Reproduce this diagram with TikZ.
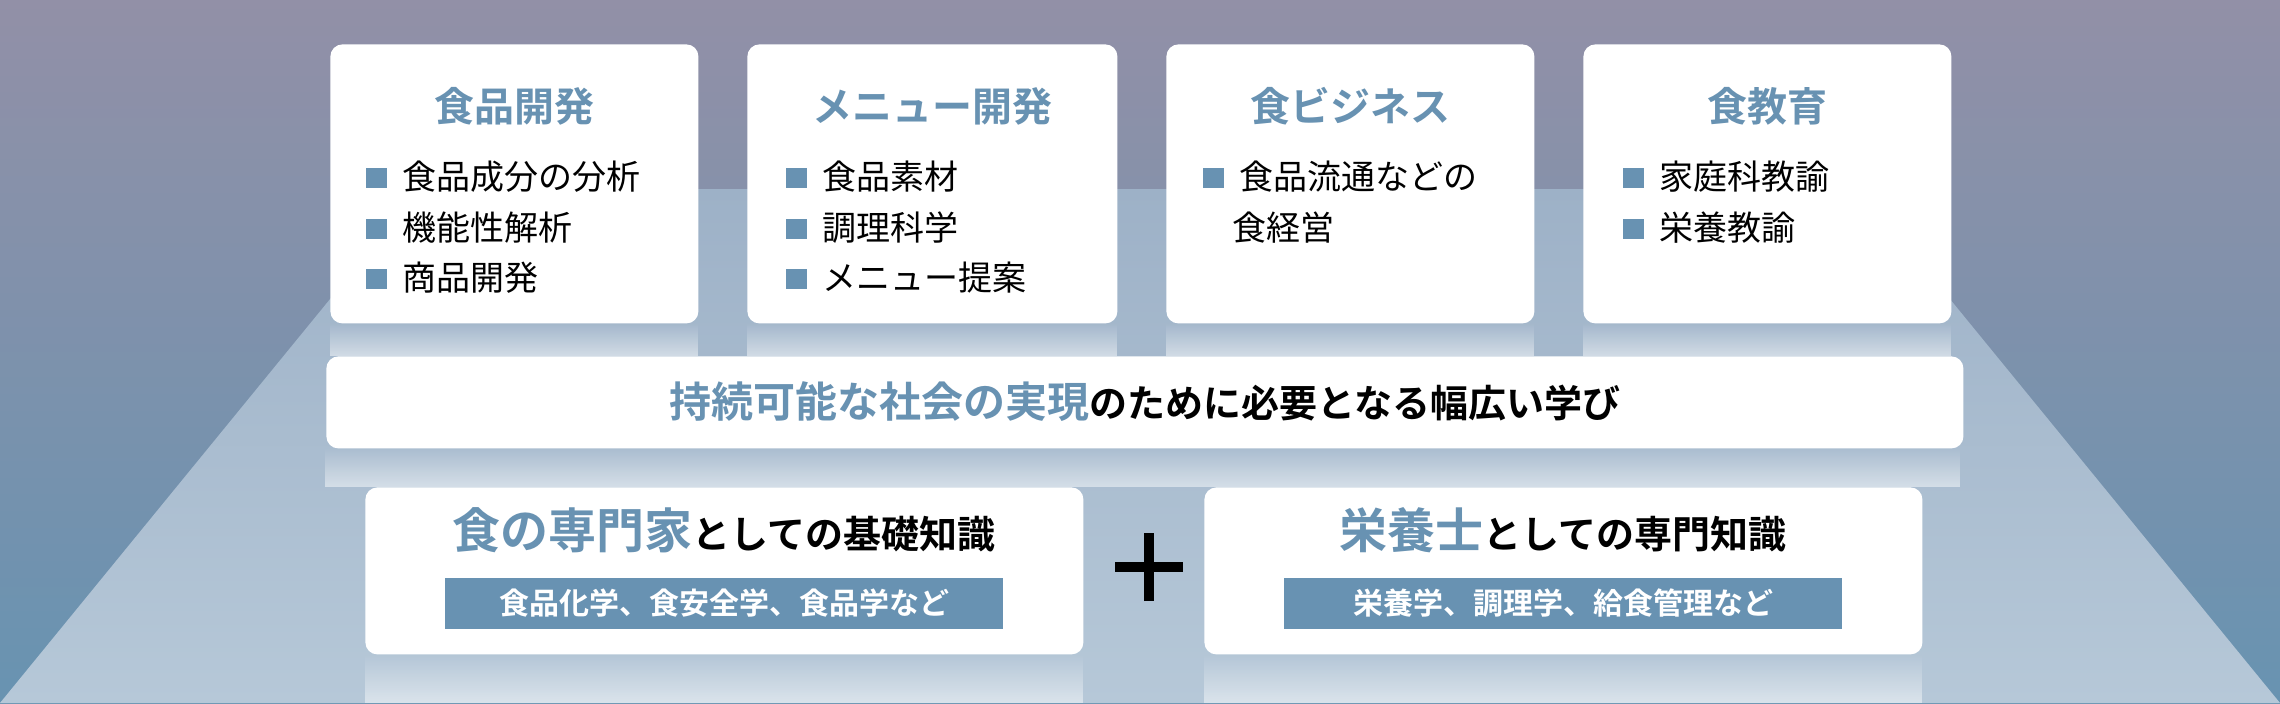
\documentclass[tikz,border=0pt]{standalone}
\usepackage{fontspec}
\setmainfont{Noto Sans CJK JP}[BoldFont={Noto Sans CJK JP Bold}]
\usetikzlibrary{fadings,positioning}

\definecolor{accent}{HTML}{6892B2}
\definecolor{skytop}{HTML}{9290A7}
\definecolor{skybot}{HTML}{6893B1}
\definecolor{floortop}{HTML}{9DB1C7}
\definecolor{floorbot}{HTML}{B6C8D8}

\newcommand{\sqmark}{{\color{accent}\rule[0.05em]{0.6em}{0.6em}}\hspace{0.45em}}

\tikzset{
  card/.style={rectangle, rounded corners=6pt, fill=white, inner sep=0pt, anchor=north west},
  cardtitle/.style={font=\fontsize{20}{24}\selectfont\bfseries, text=accent},
  itemtext/.style={font=\fontsize{17}{20}\selectfont, anchor=west, inner sep=0pt},
  bigtitle/.style={font=\fontsize{19}{24}\selectfont\bfseries},
  barbox/.style={fill=accent, text=white, minimum width=279pt, minimum height=25.5pt,
    font=\fontsize{15}{18}\selectfont\bfseries},
  glow/.style={fill=white, opacity=0.5, path fading=north}
}

\begin{document}
\begin{tikzpicture}[x=0.5pt,y=-0.5pt]
\useasboundingbox (0,0) rectangle (2280,703);

% backdrop
\shade[top color=skytop, bottom color=skybot] (0,0) rectangle (2280,703);
\shade[top color=floortop, bottom color=floorbot] (420,189) -- (1860,189) -- (2280,703) -- (0,703) -- cycle;

% reflections
\fill[glow] (330,323) rectangle (698,356);
\fill[glow] (747,323) rectangle (1117,356);
\fill[glow] (1166,323) rectangle (1534,356);
\fill[glow] (1583,323) rectangle (1951,356);
\fill[glow] (326,448) rectangle (1963,487);
\fill[glow] (365,654) rectangle (1083,703);
\fill[glow] (1204,654) rectangle (1922,703);

% top cards
\node[card, minimum width=184pt, minimum height=139.5pt] (foodDev) at (330,44) {};
\node[card, minimum width=185pt, minimum height=139.5pt] (menuDev) at (747,44) {};
\node[card, minimum width=184pt, minimum height=139.5pt] (foodBiz) at (1166,44) {};
\node[card, minimum width=184pt, minimum height=139.5pt] (foodEdu) at (1583,44) {};

\node[cardtitle] (foodDevT) at (514,106) {食品開発};
\node[itemtext] (foodDevA) at (366,177) {\sqmark 食品成分の分析};
\node[itemtext] (foodDevB) at (366,228) {\sqmark 機能性解析};
\node[itemtext] (foodDevC) at (366,278) {\sqmark 商品開発};

\node[cardtitle] (menuDevT) at (932,106) {メニュー開発};
\node[itemtext] (menuDevA) at (786,177) {\sqmark 食品素材};
\node[itemtext] (menuDevB) at (786,228) {\sqmark 調理科学};
\node[itemtext] (menuDevC) at (786,278) {\sqmark メニュー提案};

\node[cardtitle] (foodBizT) at (1350,106) {食ビジネス};
\node[itemtext] (foodBizA) at (1203,177) {\sqmark 食品流通などの};
\node[itemtext] (foodBizB) at (1232,228) {食経営};

\node[cardtitle] (foodEduT) at (1767,106) {食教育};
\node[itemtext] (foodEduA) at (1623,177) {\sqmark 家庭科教諭};
\node[itemtext] (foodEduB) at (1623,228) {\sqmark 栄養教諭};

% band
\node[card, minimum width=818.5pt, minimum height=46pt] (band) at (326,356) {};
\node[bigtitle] (bandT) at (1145,402) {{\color{accent}\fontsize{21}{24}\selectfont 持続可能な社会の実現}のために必要となる幅広い学び};

% bottom cards
\node[card, minimum width=359pt, minimum height=83.5pt] (expert) at (365,487) {};
\node[card, minimum width=359pt, minimum height=83.5pt] (dietitian) at (1204,487) {};

\node[bigtitle] (expertT) at (724,530) {{\color{accent}\fontsize{24}{28}\selectfont 食の専門家}としての基礎知識};
\node[barbox] (expertB) at (724,603) {食品化学、食安全学、食品学など};

\node[bigtitle] (dietitianT) at (1563,530) {{\color{accent}\fontsize{24}{28}\selectfont 栄養士}としての専門知識};
\node[barbox] (dietitianB) at (1563,603) {栄養学、調理学、給食管理など};

% plus sign
\coordinate (plus) at (1149,567);
\draw[line width=5pt] ([xshift=-17pt]plus) -- ([xshift=17pt]plus);
\draw[line width=5pt] ([yshift=-17pt]plus) -- ([yshift=17pt]plus);

\end{tikzpicture}
\end{document}
